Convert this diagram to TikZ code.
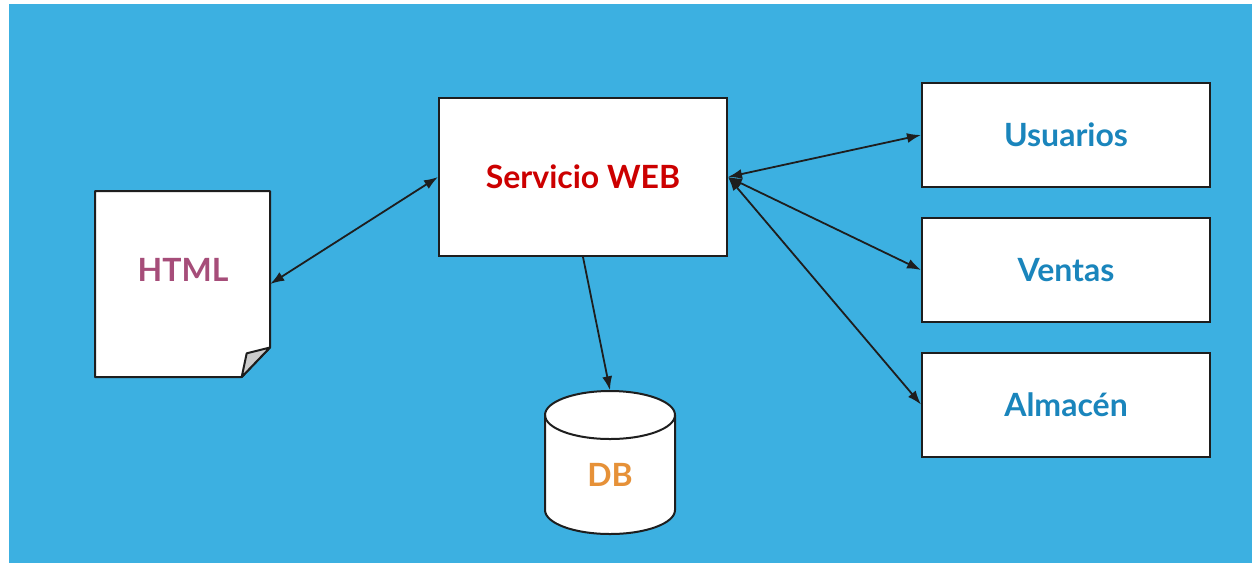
\documentclass[tikz,border=0pt]{standalone}
\usepackage{fontspec}
\setmainfont{Lato}
\usetikzlibrary{arrows.meta}
\definecolor{bgblue}{RGB}{60,176,225}
\definecolor{webred}{RGB}{204,0,0}
\definecolor{htmlpink}{RGB}{166,77,121}
\definecolor{modblue}{RGB}{26,133,188}
\definecolor{dborange}{RGB}{230,145,56}
\definecolor{foldgray}{RGB}{204,204,204}
\definecolor{edge}{RGB}{30,30,30}
\tikzset{
  boxnode/.style={draw=edge, fill=white, line width=2pt, inner sep=0pt, minimum width=288pt},
  lbl/.style={font=\fontsize{32}{38}\selectfont\bfseries},
  conn/.style={draw=edge, line width=1.8pt, {Latex[length=14pt,width=10pt]}-{Latex[length=14pt,width=10pt]}},
  oneway/.style={draw=edge, line width=1.8pt, -{Latex[length=14pt,width=10pt]}}
}
\begin{document}
\begin{tikzpicture}[x=1pt,y=-1pt]
\useasboundingbox (0,0) rectangle (1252,563);
\fill[white] (0,0) rectangle (1252,563);
\fill[bgblue] (9,4) rectangle (1252,563);

% Servicio WEB
\node[boxnode, minimum height=158pt] (web) at (583,177) {};
\node[lbl, text=webred] at (web.center) {Servicio WEB};

% Modules
\node[boxnode, minimum height=104pt] (usu) at (1066,135) {};
\node[lbl, text=modblue] at (usu.center) {Usuarios};
\node[boxnode, minimum height=104pt] (ven) at (1066,270) {};
\node[lbl, text=modblue] at (ven.center) {Ventas};
\node[boxnode, minimum height=104pt] (alm) at (1066,404.5) {};
\node[lbl, text=modblue] at (alm.center) {Almacén};

% HTML document
\node[inner sep=0pt, minimum width=175pt, minimum height=186pt] (html) at (182.5,284) {};
\draw[edge, fill=white, line width=2pt, line join=round]
  (95,191) -- (270,191) -- (270,347.5) -- (241.7,377) -- (95,377) -- cycle;
\draw[edge, fill=foldgray, line width=2pt, line join=round]
  (270,347.5) -- (246.7,353.3) -- (241.7,377) -- cycle;
\node[lbl, text=htmlpink] at (183,270) {HTML};

% DB cylinder
\node[inner sep=0pt, minimum width=130pt, minimum height=143pt] (db) at (610,462) {};
\draw[edge, fill=white, line width=2pt]
  (545,415) -- (545,510) arc[start angle=180, end angle=360, x radius=65pt, y radius=24pt]
  -- (675,415) arc[start angle=0, end angle=180, x radius=65pt, y radius=24pt] -- cycle;
\draw[edge, line width=2pt] (545,415) arc[start angle=180, end angle=360, x radius=65pt, y radius=24pt];
\node[lbl, text=dborange] at (610,475) {DB};

% Connectors
\draw[conn] (html.east) -- (web.west);
\draw[oneway] (web.south) -- (db.north);
\draw[conn] (web.east) -- (usu.west);
\draw[conn] (web.east) -- (ven.west);
\draw[conn] (web.east) -- (alm.west);
\end{tikzpicture}
\end{document}
